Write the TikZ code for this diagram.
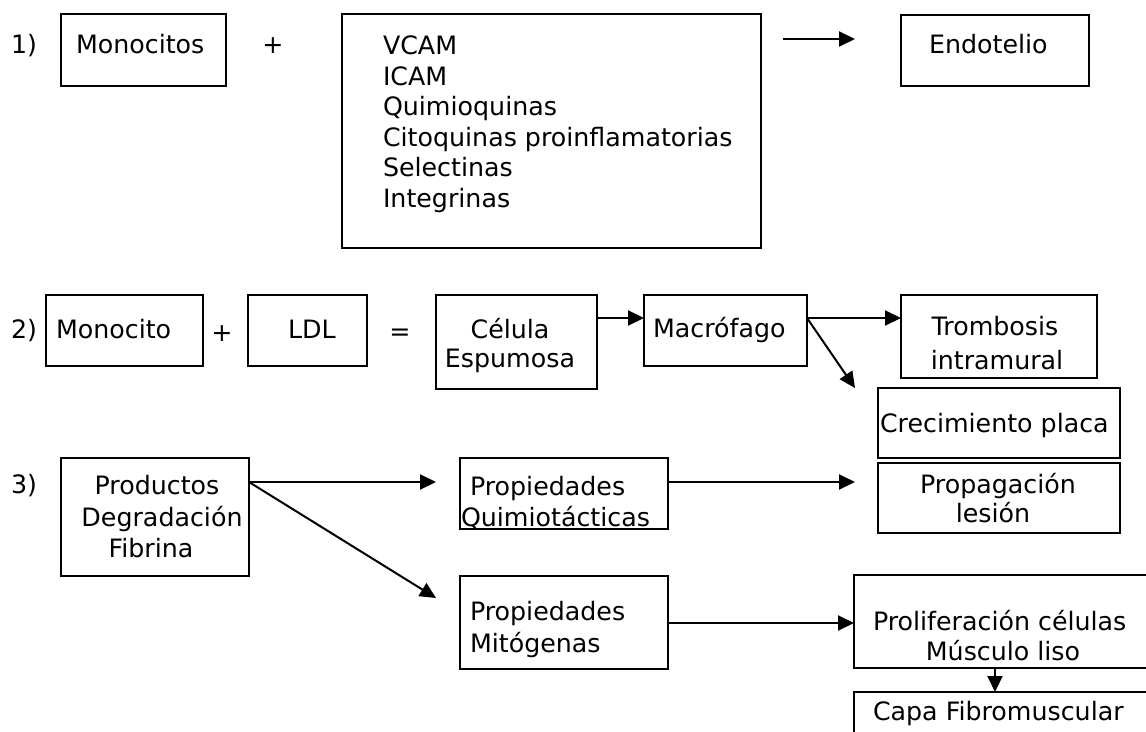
\documentclass[tikz,border=0pt]{standalone}
\usepackage{fontspec}
\setmainfont{DejaVu Sans}
\usetikzlibrary{arrows.meta}
\begin{document}
\begin{tikzpicture}[x=1pt,y=-1pt,
  box/.style={draw,line width=2pt,rectangle,inner sep=0pt,outer sep=0pt},
  txt/.style={inner sep=0pt,outer sep=0pt,font=\fontsize{25.3}{30}\selectfont},
  tl/.style={txt,anchor=base west},
  tc/.style={txt,anchor=base},
  arr/.style={line width=2pt,-{Triangle[length=16pt,width=15pt]}}]
\useasboundingbox (0,0) rectangle (1146,731);
\clip (0,0) rectangle (1146,731);
% helper coordinates
\coordinate (Y318) at (0,318);
\coordinate (Y482) at (0,482);
\coordinate (Y623) at (0,623);
\coordinate (X995) at (995,0);
% ---- row 1
\node[box,minimum width=165pt,minimum height=72pt] (mono1) at (143.5,50) {};
\node[box,minimum width=419pt,minimum height=234pt] (vcam) at (551.5,131) {};
\node[box,minimum width=188pt,minimum height=71pt] (endo) at (995,50.5) {};
\node[tl] (n1) at (11,53) {1)};
\node[tl] (t-mono1) at (76,53) {Monocitos};
\node[tc] (plus1) at (273,53) {+};
\node[tl] (t-v1) at (383,54) {VCAM};
\node[tl] (t-v2) at (383,85) {ICAM};
\node[tl] (t-v3) at (383,115) {Quimioquinas};
\node[tl] (t-v4) at (383,146) {Citoquinas proinflamatorias};
\node[tl] (t-v5) at (383,176) {Selectinas};
\node[tl] (t-v6) at (383,207) {Integrinas};
\node[tl] (t-endo) at (929,53) {Endotelio};
\coordinate (a1s) at (783,39);
\coordinate (a1e) at (855,39);
\draw[arr] (a1s) -- (a1e);
% ---- row 2
\node[box,minimum width=157pt,minimum height=71pt] (mono2) at (124.5,330.5) {};
\node[box,minimum width=119pt,minimum height=71pt] (ldl) at (307.5,330.5) {};
\node[box,minimum width=161pt,minimum height=94pt] (cel) at (516.5,342) {};
\node[box,minimum width=163pt,minimum height=71pt] (mac) at (725.5,330.5) {};
\node[box,minimum width=196pt,minimum height=83pt] (tromb) at (999,336.5) {};
\node[box,minimum width=242pt,minimum height=70pt] (crec) at (999,423) {};
\node[tl] (n2) at (11,338) {2)};
\node[tl] (t-mono2) at (56,338) {Monocito};
\node[tc] (plus2) at (222,341) {+};
\node[tl] (t-ldl) at (288,338) {LDL};
\node[tc] (eq) at (400,340) {=};
\node[tc] (t-cel1) at (510,338) {Célula};
\node[tc] (t-cel2) at (510,367) {Espumosa};
\node[tl] (t-mac) at (653,337) {Macrófago};
\node[tc] (t-tr1) at (995,335) {Trombosis};
\node[tc] (t-tr2) at (997,369) {intramural};
\node[tl] (t-crec) at (880,432) {Crecimiento placa};
\coordinate (dtip) at (855,388);
\draw[arr] (cel.east |- Y318) -- (mac.west |- Y318);
\draw[arr] (mac.east |- Y318) -- (tromb.west |- Y318);
\draw[arr] (mac.east |- Y318) -- (dtip);
% ---- row 3
\node[box,minimum width=188pt,minimum height=118pt] (prod) at (155,517) {};
\node[box,minimum width=208pt,minimum height=71pt] (quim) at (564,493.5) {};
\node[box,minimum width=242pt,minimum height=70pt] (prop) at (999,498) {};
\node[box,minimum width=208pt,minimum height=93pt] (mito) at (564,622.5) {};
\node[box,minimum width=306pt,minimum height=93pt] (prol) at (1007,621.5) {};
\node[box,minimum width=306pt,minimum height=68pt] (capa) at (1007,726) {};
\node[tl] (n3) at (11,493) {3)};
\node[tc] (t-pr1) at (157,494) {Productos};
\node[tc] (t-pr2) at (162,526) {Degradación};
\node[tc] (t-pr3) at (151,557) {Fibrina};
\node[tl] (t-q1) at (470,495) {Propiedades};
\node[tl] (t-q2) at (461,526) {Quimiotácticas};
\node[tc] (t-pg1) at (998,493) {Propagación};
\node[tc] (t-pg2) at (993,522) {lesión};
\node[tl] (t-m1) at (470,620) {Propiedades};
\node[tl] (t-m2) at (470,652) {Mitógenas};
\node[tl] (t-pl1) at (873,630) {Proliferación células};
\node[tc] (t-pl2) at (1003,660) {Músculo liso};
\node[tl] (t-capa) at (873,720) {Capa Fibromuscular};
\coordinate (q-tip) at (436,482);
\coordinate (m-tip) at (436,598);
\coordinate (pg-tip) at (855,482);
\draw[arr] (prod.east |- Y482) -- (q-tip);
\draw[arr] (prod.east |- Y482) -- (m-tip);
\draw[arr] (quim.east |- Y482) -- (pg-tip);
\draw[arr] (mito.east |- Y623) -- (prol.west |- Y623);
\draw[arr] (prol.south -| X995) -- (capa.north -| X995);
\end{tikzpicture}
\end{document}
